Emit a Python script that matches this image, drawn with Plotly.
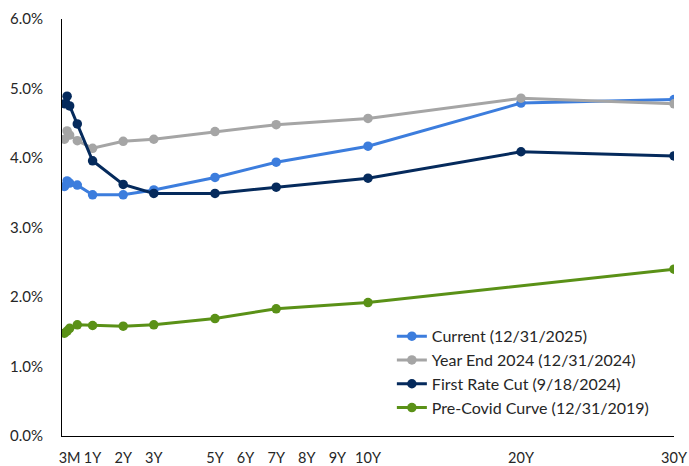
import plotly.graph_objects as go

# Maturities in years
maturities = [1/12, 2/12, 3/12, 6/12, 1, 2, 3, 5, 7, 10, 20, 30]
maturities_2019 = [1/12, 2/12, 3/12, 6/12, 1, 2, 3, 5, 7, 10, 30]

# Treasury yields (%)
current_2025 = [3.59, 3.67, 3.64, 3.61, 3.47, 3.47, 3.54, 3.72, 3.94, 4.17, 4.79, 4.84]
year_end_2024 = [4.27, 4.39, 4.33, 4.25, 4.14, 4.24, 4.27, 4.38, 4.48, 4.57, 4.86, 4.78]
first_rate_cut = [4.78, 4.89, 4.75, 4.49, 3.96, 3.62, 3.49, 3.49, 3.58, 3.71, 4.09, 4.03]
pre_covid = [1.48, 1.51, 1.55, 1.60, 1.59, 1.58, 1.60, 1.69, 1.83, 1.92, 2.40]

tick_years = [0.25, 1, 2, 3, 5, 6, 7, 8, 9, 10, 20, 30]
tick_labels = ["3M", "1Y", "2Y", "3Y", "5Y", "6Y", "7Y", "8Y", "9Y", "10Y", "20Y", "30Y"]


def axis_pos(years):
    # beyond 10Y the maturity axis is compressed to half scale
    return years if years <= 10 else 10 + (years - 10) / 2


series = [
    ("Current (12/31/2025)", maturities, current_2025, "#3C7DDD"),
    ("Year End 2024 (12/31/2024)", maturities, year_end_2024, "#A5A5A5"),
    ("First Rate Cut (9/18/2024)", maturities, first_rate_cut, "#052A5C"),
    ("Pre-Covid Curve (12/31/2019)", maturities_2019, pre_covid, "#5A9117"),
]

fig = go.Figure()
for name, xs, ys, color in series:
    fig.add_trace(go.Scatter(
        x=[axis_pos(m) for m in xs], y=ys, name=name,
        mode="lines+markers",
        line=dict(color=color, width=3),
        marker=dict(color=color, size=9.5),
    ))

font_family = "Lato, Carlito, Calibri, sans-serif"
fig.update_layout(
    width=689, height=466,
    margin=dict(l=62, r=15, t=19, b=30),
    paper_bgcolor="white", plot_bgcolor="white",
    font=dict(family=font_family, size=15, color="#262626"),
    showlegend=True,
    legend=dict(x=0.539, y=0.28, xanchor="left", yanchor="top",
                bgcolor="rgba(0,0,0,0)", font=dict(size=16),
                tracegroupgap=0, itemwidth=30),
)
fig.update_xaxes(
    range=[0, 20], showgrid=False, zeroline=False, automargin=False,
    showline=True, linecolor="black", linewidth=1,
    tickmode="array", tickvals=[axis_pos(t) for t in tick_years], ticktext=tick_labels,
    ticks="", tickangle=0, ticklabelstandoff=9, tickfont=dict(size=14.5),
)
fig.update_yaxes(
    range=[0, 6], dtick=1, tick0=0, showgrid=False, zeroline=False, automargin=False,
    showline=True, linecolor="black", linewidth=1,
    tickformat=".1f", ticksuffix="%", ticks="", ticklabelstandoff=15,
    tickfont=dict(size=15),
)

fig.write_html("out.html")
